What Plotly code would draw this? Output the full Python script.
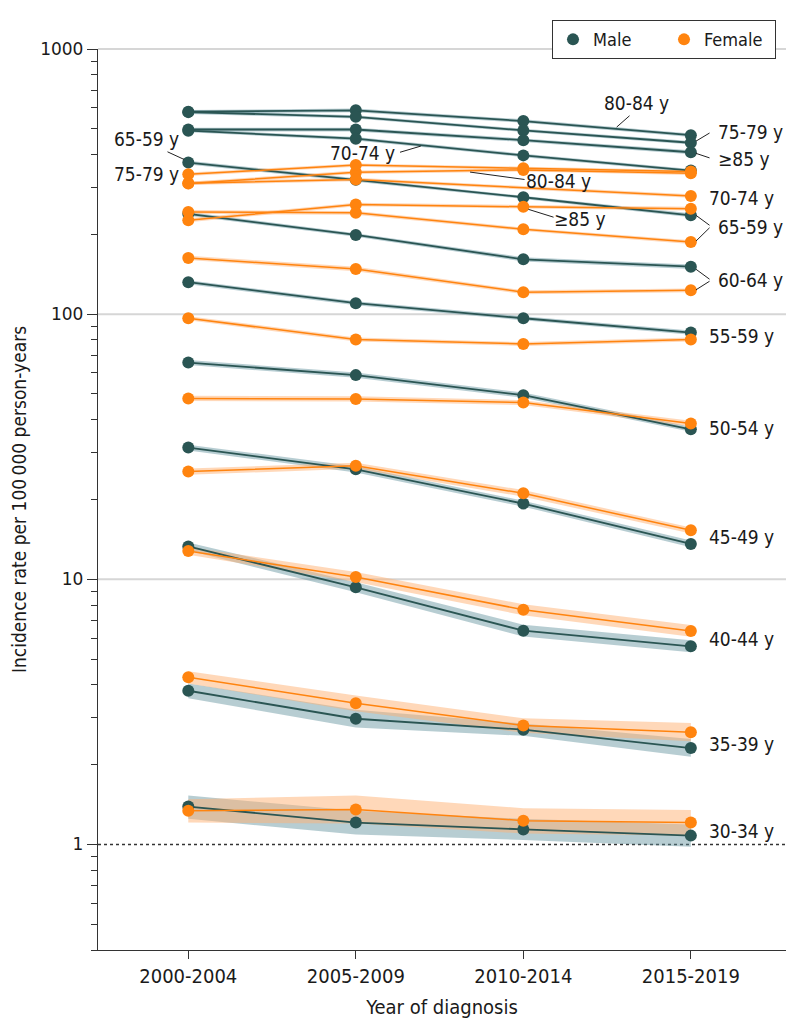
import math
import plotly.graph_objects as go

# ---------------- data ----------------
periods = ["2000-2004", "2005-2009", "2010-2014", "2015-2019"]

# Male incidence (per 100 000 person-years) and 95% CI
male_80_84 = [580, 587, 535, 473]
male_80_84_lo = [571, 578, 527, 466]
male_80_84_hi = [589, 596, 543, 480]
male_75_79 = [578, 555, 493, 443]
male_75_79_lo = [569, 547, 486, 436]
male_75_79_hi = [587, 563, 500, 450]
male_85p = [497, 497, 453, 408]
male_85p_lo = [489, 489, 446, 401]
male_85p_hi = [505, 505, 460, 415]
male_70_74 = [492, 459, 397, 348]
male_70_74_lo = [485, 452, 391, 343]
male_70_74_hi = [499, 466, 403, 353]
male_65_69 = [373, 321, 276, 236]
male_65_69_lo = [367, 316, 272, 232]
male_65_69_hi = [379, 326, 280, 240]
male_60_64 = [239, 199, 161, 151]
male_60_64_lo = [235, 196, 158, 148]
male_60_64_hi = [243, 202, 164, 154]
male_55_59 = [132, 110, 96.5, 85.2]
male_55_59_lo = [129.7, 108.1, 94.8, 83.7]
male_55_59_hi = [134.3, 111.9, 98.2, 86.7]
male_50_54 = [65.7, 58.9, 49.5, 36.8]
male_50_54_lo = [64.3, 57.6, 48.4, 36.0]
male_50_54_hi = [67.2, 60.2, 50.6, 37.6]
male_45_49 = [31.4, 26.0, 19.3, 13.6]
male_45_49_lo = [30.6, 25.3, 18.8, 13.2]
male_45_49_hi = [32.2, 26.7, 19.8, 14.0]
male_40_44 = [13.3, 9.33, 6.40, 5.59]
male_40_44_lo = [12.85, 8.93, 6.08, 5.31]
male_40_44_hi = [13.77, 9.75, 6.74, 5.89]
male_35_39 = [3.80, 2.98, 2.71, 2.31]
male_35_39_lo = [3.56, 2.76, 2.57, 2.14]
male_35_39_hi = [4.05, 3.22, 2.86, 2.50]
male_30_34 = [1.39, 1.21, 1.14, 1.08]
male_30_34_lo = [1.25, 1.09, 1.04, 0.98]
male_30_34_hi = [1.53, 1.34, 1.25, 1.19]

# Female incidence and 95% CI
female_80_84 = [311, 343, 350, 340]
female_80_84_lo = [306, 338, 345, 335]
female_80_84_hi = [316, 348, 355, 345]
female_75_79 = [337, 365, 355, 345]
female_75_79_lo = [332, 360, 350, 340]
female_75_79_hi = [342, 370, 360, 350]
female_85p = [226, 259, 254, 250]
female_85p_lo = [222, 255, 250, 246]
female_85p_hi = [230, 263, 258, 254]
female_70_74 = [312, 322, None, 279]
female_70_74_lo = [307, 317, None, 275]
female_70_74_hi = [317, 327, None, 283]
female_65_69 = [243, 241, 209, 187]
female_65_69_lo = [239, 237, 206, 184]
female_65_69_hi = [247, 245, 212, 190]
female_60_64 = [163, 148, 121, 123]
female_60_64_lo = [160, 145, 119, 121]
female_60_64_hi = [166, 151, 123, 125]
female_55_59 = [96.5, 80.2, 77.2, 80.2]
female_55_59_lo = [94.8, 78.8, 75.9, 78.8]
female_55_59_hi = [98.2, 81.6, 78.5, 81.6]
female_50_54 = [48.1, 47.9, 46.4, 38.7]
female_50_54_lo = [47.0, 46.8, 45.4, 37.8]
female_50_54_hi = [49.2, 49.0, 47.4, 39.6]
female_45_49 = [25.5, 26.8, 21.1, 15.3]
female_45_49_lo = [24.8, 26.1, 20.5, 14.9]
female_45_49_hi = [26.2, 27.5, 21.7, 15.7]
female_40_44 = [12.8, 10.2, 7.68, 6.39]
female_40_44_lo = [12.37, 9.76, 7.32, 6.07]
female_40_44_hi = [13.25, 10.66, 8.05, 6.73]
female_35_39 = [4.27, 3.41, 2.81, 2.65]
female_35_39_lo = [4.05, 3.18, 2.64, 2.45]
female_35_39_hi = [4.50, 3.65, 2.99, 2.87]
female_30_34 = [1.34, 1.355, 1.23, 1.21]
female_30_34_lo = [1.21, 1.20, 1.10, 1.08]
female_30_34_hi = [1.48, 1.53, 1.37, 1.35]

y_tick_vals = [1, 10, 100, 1000]
y_tick_text = ["1", "10", "100", "1000"]
y_minor_vals = [0.4, 0.5, 0.6, 0.7, 0.8, 0.9,
                2, 3, 4, 5, 6, 7, 8, 9,
                20, 30, 40, 50, 60, 70, 80, 90,
                200, 300, 400, 500, 600, 700, 800, 900]

male_series = [
    (male_80_84, male_80_84_lo, male_80_84_hi),
    (male_75_79, male_75_79_lo, male_75_79_hi),
    (male_85p, male_85p_lo, male_85p_hi),
    (male_70_74, male_70_74_lo, male_70_74_hi),
    (male_65_69, male_65_69_lo, male_65_69_hi),
    (male_60_64, male_60_64_lo, male_60_64_hi),
    (male_55_59, male_55_59_lo, male_55_59_hi),
    (male_50_54, male_50_54_lo, male_50_54_hi),
    (male_45_49, male_45_49_lo, male_45_49_hi),
    (male_40_44, male_40_44_lo, male_40_44_hi),
    (male_35_39, male_35_39_lo, male_35_39_hi),
    (male_30_34, male_30_34_lo, male_30_34_hi),
]
female_series = [
    (female_80_84, female_80_84_lo, female_80_84_hi),
    (female_75_79, female_75_79_lo, female_75_79_hi),
    (female_85p, female_85p_lo, female_85p_hi),
    (female_70_74, female_70_74_lo, female_70_74_hi),
    (female_65_69, female_65_69_lo, female_65_69_hi),
    (female_60_64, female_60_64_lo, female_60_64_hi),
    (female_55_59, female_55_59_lo, female_55_59_hi),
    (female_50_54, female_50_54_lo, female_50_54_hi),
    (female_45_49, female_45_49_lo, female_45_49_hi),
    (female_40_44, female_40_44_lo, female_40_44_hi),
    (female_35_39, female_35_39_lo, female_35_39_hi),
    (female_30_34, female_30_34_lo, female_30_34_hi),
]

# ---------------- style ----------------
MALE = "#2a5553"
FEMALE = "#ff840f"
MALE_BAND = "rgba(95,145,155,0.45)"
FEMALE_BAND = "rgba(255,178,115,0.5)"
COND = "DejaVu Sans Condensed, Liberation Sans Narrow, Roboto Condensed, sans-serif"
TXT = "#1a1a1a"
Y_LO = math.log10(0.4)
Y_HI = 3.0

fig = go.Figure()


def band(vals, lo, hi, color):
    xs = [p for p, v in zip(periods, lo) if v is not None]
    los = [v for v in lo if v is not None]
    his = [v for v in hi if v is not None]
    fig.add_trace(go.Scatter(
        x=xs + xs[::-1], y=his + los[::-1], fill="toself", fillcolor=color,
        line=dict(width=0), mode="lines", hoverinfo="skip", showlegend=False))


for vals, lo, hi in male_series:
    band(vals, lo, hi, MALE_BAND)
for vals, lo, hi in female_series:
    band(vals, lo, hi, FEMALE_BAND)

for vals, lo, hi in male_series:
    fig.add_trace(go.Scatter(
        x=periods, y=vals, mode="lines+markers", connectgaps=True,
        line=dict(color=MALE, width=1.8), marker=dict(color=MALE, size=12),
        showlegend=False))
for vals, lo, hi in female_series:
    fig.add_trace(go.Scatter(
        x=periods, y=vals, mode="lines+markers", connectgaps=True,
        line=dict(color=FEMALE, width=1.5), marker=dict(color=FEMALE, size=12),
        showlegend=False))

# legend entries
fig.add_trace(go.Scatter(x=[None], y=[None], mode="markers", name="Male",
                         marker=dict(color=MALE, size=15)))
fig.add_trace(go.Scatter(x=[None], y=[None], mode="markers", name="Female",
                         marker=dict(color=FEMALE, size=15)))


def ypaper(v):
    return (math.log10(v) - Y_LO) / (Y_HI - Y_LO)


shapes = []
for g in [10, 100, 1000]:
    shapes.append(dict(type="line", xref="paper", yref="paper", x0=0, x1=1,
                       y0=ypaper(g), y1=ypaper(g), layer="below",
                       line=dict(color="#d6d6d6", width=2)))
shapes.append(dict(type="line", xref="paper", yref="paper", x0=0, x1=1,
                   y0=ypaper(1), y1=ypaper(1), layer="below",
                   line=dict(color="#333333", width=1.4, dash="dot")))

# ---------------- labels ----------------
annotations = []
# (text, x index, y log10, xanchor)
labels = [
    ("80-84 y", 2.673, 2.7947, "center"),
    ("65-59 y", -0.2466, 2.659, "center"),
    ("75-79 y", -0.2466, 2.5271, "center"),
    ("70-74 y", 1.0406, 2.6089, "center"),
    ("80-84 y", 2.207, 2.5019, "center"),
    ("≥85 y", 2.338, 2.3576, "center"),
    ("75-79 y", 3.150, 2.6854, "left"),
    ("≥85 y", 3.150, 2.5863, "left"),
    ("70-74 y", 3.097, 2.4393, "left"),
    ("65-59 y", 3.150, 2.3293, "left"),
    ("60-64 y", 3.150, 2.127, "left"),
    ("55-59 y", 3.097, 1.9179, "left"),
    ("50-54 y", 3.097, 1.5690, "left"),
    ("45-49 y", 3.097, 1.1582, "left"),
    ("40-44 y", 3.097, 0.7751, "left"),
    ("35-39 y", 3.097, 0.3794, "left"),
    ("30-34 y", 3.097, 0.0490, "left"),
]
for text, x, y, xa in labels:
    annotations.append(dict(text=text, x=x, y=y, xref="x", yref="y",
                            xanchor=xa, yanchor="middle", showarrow=False,
                            font=dict(family=COND, size=19, color=TXT)))

# pointer lines: (tip x index, tip y log10, tail dx px, tail dy px)
pointers = [
    (2.557, 2.7053, 14.4, -12.7),
    (3.031, 2.6526, 15, -9),
    (3.031, 2.6063, 15, 5),
    (3.031, 2.3726, 15, 11),
    (3.031, 2.2758, 15, -14.7),
    (3.031, 2.1692, 15, 11),
    (3.031, 2.0919, 15, -9.5),
    (-0.0257, 2.5836, -18, -8.3),
    (1.388, 2.6338, -22.3, 6.6),
    (1.682, 2.5358, 56, 7.6),
    (2.030, 2.3953, 26.7, 8.3),
]
for x, y, dx, dy in pointers:
    annotations.append(dict(text="", x=x, y=y, xref="x", yref="y",
                            ax=dx, ay=dy, showarrow=True, arrowhead=0,
                            arrowwidth=1, arrowcolor="#222222"))

# page body has an 8 px margin, so the figure is sized to fit inside it
fig.update_layout(
    width=778, height=1019,
    margin=dict(l=90, r=0, t=41, b=77, autoexpand=False),
    paper_bgcolor="white", plot_bgcolor="white",
    font=dict(family=COND, size=18, color=TXT),
    shapes=shapes, annotations=annotations,
    legend=dict(orientation="h", x=0.6599, xanchor="left", y=1.032,
                yanchor="top", bgcolor="white", bordercolor="#333333",
                borderwidth=1, font=dict(family=COND, size=18, color=TXT),
                itemsizing="constant", entrywidth=66,
                entrywidthmode="pixels"),
    xaxis=dict(type="category", categoryorder="array", categoryarray=periods,
               range=[-0.539, 3.568], showgrid=False, zeroline=False,
               showline=True, linecolor="#333333", linewidth=1.3,
               ticks="outside", ticklen=8, tickcolor="#333333",
               tickfont=dict(family=COND, size=20, color=TXT),
               title=dict(text="Year of diagnosis", standoff=12,
                          font=dict(family=COND, size=20, color=TXT))),
    yaxis=dict(type="log", range=[Y_LO, Y_HI], showgrid=False, zeroline=False,
               showline=True, linecolor="#333333", linewidth=1.3,
               tickmode="array", tickvals=y_tick_vals, ticktext=y_tick_text,
               ticks="outside", ticklen=10, tickcolor="#333333",
               tickfont=dict(family="DejaVu Sans", size=17, color=TXT),
               minor=dict(tickmode="array", tickvals=y_minor_vals,
                          ticks="outside", ticklen=6, tickcolor="#333333",
                          showgrid=False),
               title=dict(text="Incidence rate per 100\u2009000 person-years",
                          standoff=16,
                          font=dict(family=COND, size=19, color=TXT))),
)

fig.write_html("out.html")
